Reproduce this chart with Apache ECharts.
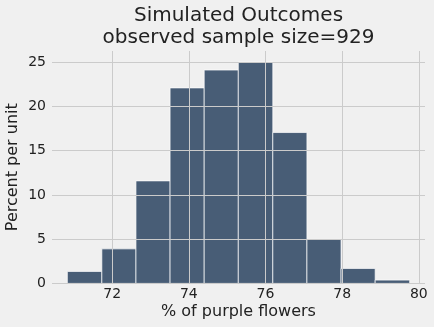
<!DOCTYPE html>
<html>
<head>
<meta charset="utf-8">
<script src="https://cdn.jsdelivr.net/npm/echarts@6/dist/echarts.min.js"></script>
<style>
html,body{margin:0;padding:0;background:#f0f0f0;}
#chart{width:434px;height:327px;}
</style>
</head>
<body>
<div id="chart"></div>
<script>
// Data
const binEdges = [70.83, 71.73, 72.62, 73.51, 74.40, 75.29, 76.19, 77.08, 77.97, 78.86, 79.76];
const percentPerUnit = [1.35, 3.9, 11.58, 22.08, 24.1, 25.0, 17.04, 4.97, 1.69, 0.37];
const xTicks = [72, 74, 76, 78, 80];
const yTicks = [0, 5, 10, 15, 20, 25];
const titleLines = ['Simulated Outcomes', 'observed sample size=929'];
const xName = '% of purple flowers';
const yName = 'Percent per unit';

const bins = percentPerUnit.map((h, i) => [binEdges[i], binEdges[i + 1], h]);
const gridMarks = xTicks.map(v => ({xAxis: v})).concat(yTicks.map(v => ({yAxis: v})));

const chart = echarts.init(document.getElementById('chart'), null, {renderer: 'canvas'});
const FONT = 'DejaVu Sans';
const TXT = '#222222';

chart.setOption({
  backgroundColor: '#f0f0f0',
  animation: false,
  textStyle: {fontFamily: FONT},
  grid: {left: 52, right: 9, top: 51, bottom: 43.6, containLabel: false, outerBoundsMode: 'none'},
  graphic: [
    {type: 'text', x: 238.5, y: 16, style: {text: titleLines[0], font: '20px "DejaVu Sans"', fill: TXT, align: 'center', verticalAlign: 'middle'}},
    {type: 'text', x: 238.5, y: 38, style: {text: titleLines[1], font: '20px "DejaVu Sans"', fill: TXT, align: 'center', verticalAlign: 'middle'}}
  ],
  xAxis: {
    type: 'value',
    min: 70.43,
    max: 80.16,
    name: xName,
    nameLocation: 'middle',
    nameGap: 20,
    nameMoveOverlap: false,
    nameTextStyle: {fontSize: 16, color: TXT, fontFamily: FONT, verticalAlign: 'top'},
    axisLine: {show: false},
    axisTick: {show: false, customValues: xTicks},
    axisLabel: {customValues: xTicks, fontSize: 14, color: TXT, fontFamily: FONT, margin: 4},
    splitLine: {show: false}
  },
  yAxis: {
    type: 'value',
    min: 0,
    max: 26.25,
    name: yName,
    nameLocation: 'middle',
    nameGap: 31,
    nameRotate: 90,
    nameMoveOverlap: false,
    nameTextStyle: {fontSize: 16, color: TXT, fontFamily: FONT},
    axisLine: {show: false},
    axisTick: {show: false, customValues: yTicks},
    axisLabel: {customValues: yTicks, fontSize: 14, color: TXT, fontFamily: FONT, margin: 6},
    splitLine: {show: false}
  },
  series: [{
    type: 'line',
    data: [],
    z: 1,
    silent: true,
    markLine: {
      silent: true,
      symbol: ['none', 'none'],
      label: {show: false},
      lineStyle: {color: '#cbcbcb', width: 1, type: 'solid'},
      data: gridMarks
    }
  }, {
    type: 'custom',
    z: 2,
    data: bins,
    encode: {x: [0, 1], y: 2},
    renderItem: function (params, api) {
      const p0 = api.coord([api.value(0), api.value(2)]);
      const p1 = api.coord([api.value(1), 0]);
      return {
        type: 'rect',
        shape: {x: p0[0], y: p0[1], width: p1[0] - p0[0], height: p1[1] - p0[1]},
        style: {fill: 'rgba(0,30,66,0.7)', stroke: 'rgba(255,255,255,0.7)', lineWidth: 1}
      };
    }
  }]
});
</script>
</body>
</html>
